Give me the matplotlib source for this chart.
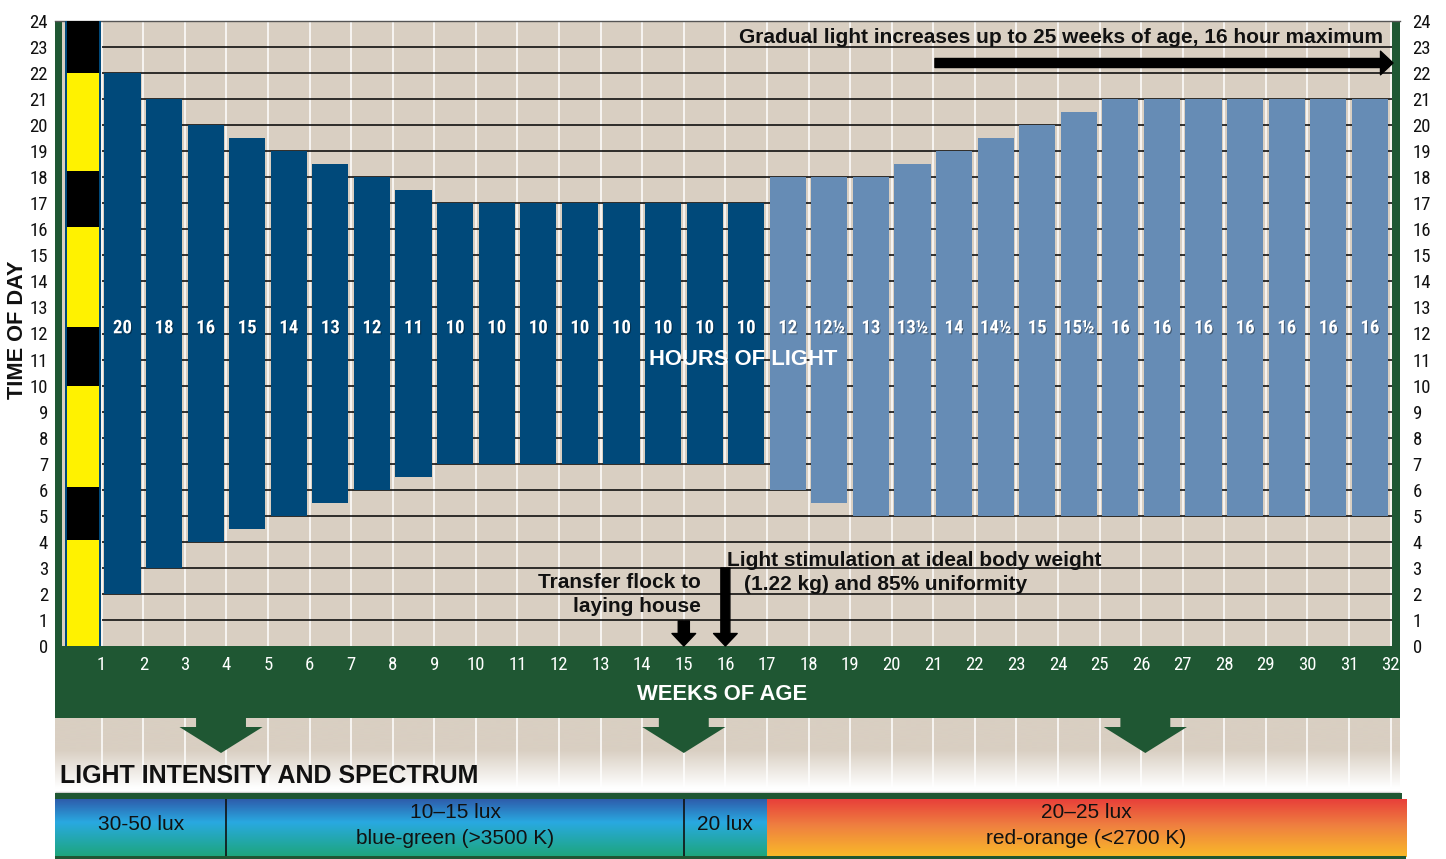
import numpy as np
import matplotlib
matplotlib.use('Agg')
import matplotlib.pyplot as plt
from matplotlib.colors import LinearSegmentedColormap, to_rgb
from matplotlib.patches import Rectangle, Polygon
import matplotlib.patheffects as pe

plt.rcParams['font.family'] = ['Liberation Sans', 'DejaVu Sans']
COND = ['Roboto Condensed', 'Fira Sans Condensed', 'Archivo Narrow', 'Liberation Sans']

# ---------------- data ----------------
weeks = list(range(1, 32))
light_on = [2, 3, 4, 4.5, 5, 5.5, 6, 6.5, 7, 7, 7, 7, 7, 7, 7, 7,
            6, 5.5, 5, 5, 5, 5, 5, 5, 5, 5, 5, 5, 5, 5, 5]
light_off = [22, 21, 20, 19.5, 19, 18.5, 18, 17.5, 17, 17, 17, 17, 17, 17, 17, 17,
             18, 18, 18, 18.5, 19, 19.5, 20, 20.5, 21, 21, 21, 21, 21, 21, 21]
hour_labels = ['20', '18', '16', '15', '14', '13', '12', '11'] + ['10'] * 8 + \
              ['12', '12½', '13', '13½', '14', '14½', '15', '15½'] + ['16'] * 7
rearing_weeks = 16          # first 16 bars dark blue

# first-week (intermittent) column: dark periods
day1_dark_start = [4.07, 10.0, 16.1, 22.0]
day1_dark_end = [6.1, 12.25, 18.25, 24.0]

x_ticks = list(range(1, 33))
y_ticks = list(range(0, 25))

lux_edges = [-0.12, 4, 15, 17, 32.37]
lux_lines = [['30-50 lux'], ['10–15 lux', 'blue-green (>3500 K)'], ['20 lux'],
             ['20–25 lux', 'red-orange (<2700 K)']]
lux_kind = ['blue', 'blue', 'blue', 'red']
green_arrow_weeks = [3.87, 15.0, 26.1]

transfer_week = 15
stim_week = 16

# ---------------- colours ----------------
BEIGE = '#D9CFC2'
GREEN = '#1F5733'
DARKBLUE = '#00497A'
LIGHTBLUE = '#668CB5'
YELLOW = '#FFF200'

W, H = 1446, 859
X0PX, DX = 60.1, 41.58   # pixel position of week 0 and pixels per week
YB, YT = 646, 21          # pixel rows of hour 0 and hour 24


def xw(px):
    return (px - X0PX) / DX


def hy(py):
    return (YB - py) / ((YB - YT) / 24.0)


fig = plt.figure(figsize=(W / 100, H / 100), dpi=100)

# background axes in (week, pixel-row) coordinates
fx = fig.add_axes([0, 0, 1, 1], zorder=0)
fx.set_xlim(xw(0), xw(W))
fx.set_ylim(H, 0)
fx.axis('off')

fx.add_patch(Rectangle((xw(55), 646), xw(1400) - xw(55), 72, color=GREEN, lw=0, zorder=1))
n = 200
ys = np.linspace(718, 792, n)
t = np.clip((ys - 750) / (788 - 750), 0, 1)[:, None]
b = np.array(to_rgb(BEIGE))
grad = (1 - t) * b + t * np.array([1, 1, 1])
fx.imshow(grad[:, None, :], extent=(xw(55), xw(1400), 792, 718), aspect='auto', zorder=1,
          interpolation='bilinear')
fx.vlines(x_ticks, 718, 790, color='white', lw=1.1, zorder=2)
for c in green_arrow_weeks:
    pts = [(c - 0.6, 716), (c + 0.6, 716), (c + 0.6, 727), (c + 1.0, 727), (c, 753),
           (c - 1.0, 727), (c - 0.6, 727)]
    fx.add_patch(Polygon(pts, closed=True, color=GREEN, lw=0, zorder=3))
fx.hlines(792, xw(55), xw(1400), color='#d0d0d0', lw=1, zorder=2)
fx.add_patch(Rectangle((xw(55), 793), xw(1402) - xw(55), 6, color=GREEN, lw=0, zorder=2))

blue_cmap = LinearSegmentedColormap.from_list('bg', [(0, '#2E5DAC'), (0.4, '#29A9E1'), (1, '#1DA67A')])
red_cmap = LinearSegmentedColormap.from_list('ro', [(0, '#E8403A'), (0.45, '#EF7F40'), (1, '#F9BA29')])
gv = np.linspace(0, 1, 100)[:, None]
for i, kind in enumerate(lux_kind):
    x0, x1 = lux_edges[i], lux_edges[i + 1]
    fx.imshow(gv, cmap=blue_cmap if kind == 'blue' else red_cmap,
              extent=(x0, x1, 857, 799), aspect='auto', zorder=3, interpolation='bilinear')
    cx = (x0 + x1) / 2
    lines = lux_lines[i]
    if len(lines) == 1:
        fx.text(cx, 825, lines[0], ha='center', va='center', fontsize=15, color='#111', zorder=5)
    else:
        fx.text(cx, 813, lines[0], ha='center', va='center', fontsize=15, color='#111', zorder=5)
        fx.text(cx, 839, lines[1], ha='center', va='center', fontsize=15, color='#111', zorder=5)
fx.vlines(lux_edges[1:3], 799, 857, color='#111', lw=1.2, zorder=4)
fx.add_patch(Rectangle((xw(55), 856), xw(1406) - xw(55), 3, color=GREEN, lw=0, zorder=4))
fx.set_xlim(xw(0), xw(W))
fx.set_ylim(H, 0)

fx.text(xw(722), 694.5, 'WEEKS OF AGE', ha='center', va='center', color='white',
        fontsize=15.8, fontweight='bold', zorder=5)
fx.text(xw(60), 776, 'LIGHT INTENSITY AND SPECTRUM', ha='left', va='center', color='#111',
        fontsize=18, fontweight='bold', zorder=5)
fx.text(xw(18), 330, 'TIME OF DAY', rotation=90, ha='center', va='center', color='#111',
        fontsize=15.7, fontweight='bold')

# ---------------- main chart ----------------
ax = fig.add_axes([55 / W, (H - YB) / H, (1400 - 55) / W, (YB - YT) / H], zorder=2)
ax.set_facecolor(BEIGE)
ax.set_xlim(xw(55), xw(1400))
ax.set_ylim(0, 24)

ax.axvspan(xw(55), xw(62), color=GREEN, lw=0, zorder=1)
ax.axvspan(xw(1392), xw(1400), color=GREEN, lw=0, zorder=1)

ax.vlines(x_ticks, 0, 24, color='white', lw=1.1, zorder=1.5)
ax.hlines(range(1, 24), 1.0, xw(1392), color='black', lw=1.1, zorder=2)

# first week column
ax.bar(0.55, 24, bottom=0, width=0.866, color=DARKBLUE, lw=0, zorder=3)
ax.bar(0.55, 24, bottom=0, width=0.77, color=YELLOW, lw=0, zorder=3.1)
ax.bar([0.55] * len(day1_dark_start), np.subtract(day1_dark_end, day1_dark_start),
       bottom=day1_dark_start, width=0.77, color='black', lw=0, zorder=3.2)

centers = np.array(weeks) + 0.5
colors = [DARKBLUE if w <= rearing_weeks else LIGHTBLUE for w in weeks]
ax.bar(centers, np.subtract(light_off, light_on), bottom=light_on, width=0.87,
       color=colors, lw=0, zorder=3)
shadow = [pe.withSimplePatchShadow(offset=(0.8, -0.8), shadow_rgbFace='black', alpha=0.35)]
for cx, lab in zip(centers, hour_labels):
    ax.text(cx, 12.2, lab, ha='center', va='center', color='white', fontsize=13.5,
            fontweight='bold', family=COND, zorder=5, path_effects=shadow)
ax.text(16.44, 11.02, 'HOURS OF LIGHT', ha='center', va='center', color='white',
        fontsize=15.8, fontweight='bold', zorder=5)

# ticks
ax.set_xticks(x_ticks)
ax.set_xticklabels([str(v) for v in x_ticks], family=COND, fontsize=13.5, color='white')
ax.tick_params(axis='x', length=0, pad=7)
ax.set_yticks(y_ticks)
ax.set_yticklabels([str(v) for v in y_ticks], family=COND, fontsize=13.5, color='#111')
ax.tick_params(axis='y', length=0, pad=5)
sec = ax.secondary_yaxis('right')
sec.set_yticks(y_ticks)
sec.set_yticklabels([str(v) for v in y_ticks], family=COND, fontsize=13.5, color='#111')
sec.tick_params(length=0, pad=9)
for s in sec.spines.values():
    s.set_visible(False)
for k, s in ax.spines.items():
    s.set_visible(k == 'top')
ax.spines['top'].set_color('#555555')
ax.spines['top'].set_linewidth(1)

# annotations
ANN = 15
ax.text(xw(1383), hy(37), 'Gradual light increases up to 25 weeks of age, 16 hour maximum',
        ha='right', va='center', fontsize=ANN, fontweight='bold', color='#111', zorder=6)
ax.annotate('', xy=(xw(1393), hy(63)), xytext=(21.04, hy(63)),
            arrowprops=dict(arrowstyle='simple,head_length=9,head_width=17,tail_width=6.5',
                            mutation_scale=1, color='black', shrinkA=0, shrinkB=0), zorder=6)

ax.text(xw(701), hy(583), 'Transfer flock to', ha='right', va='center', fontsize=ANN,
        fontweight='bold', color='#111', zorder=6)
ax.text(xw(701), hy(606), 'laying house', ha='right', va='center', fontsize=ANN,
        fontweight='bold', color='#111', zorder=6)
ax.text(xw(727), hy(561), 'Light stimulation at ideal body weight', ha='left', va='center',
        fontsize=ANN, fontweight='bold', color='#111', zorder=6)
ax.text(xw(744), hy(584), '(1.22 kg) and 85% uniformity', ha='left', va='center',
        fontsize=ANN, fontweight='bold', color='#111', zorder=6)
ax.annotate('', xy=(transfer_week, 0), xytext=(transfer_week, hy(621)),
            arrowprops=dict(arrowstyle='simple,head_length=9,head_width=17,tail_width=8',
                            mutation_scale=1, color='black', shrinkA=0, shrinkB=0),
            zorder=6, annotation_clip=False)
ax.annotate('', xy=(stim_week, 0), xytext=(stim_week, hy(568)),
            arrowprops=dict(arrowstyle='simple,head_length=9,head_width=17,tail_width=6.5',
                            mutation_scale=1, color='black', shrinkA=0, shrinkB=0),
            zorder=6, annotation_clip=False)

fig.savefig('out.png', dpi=100)
